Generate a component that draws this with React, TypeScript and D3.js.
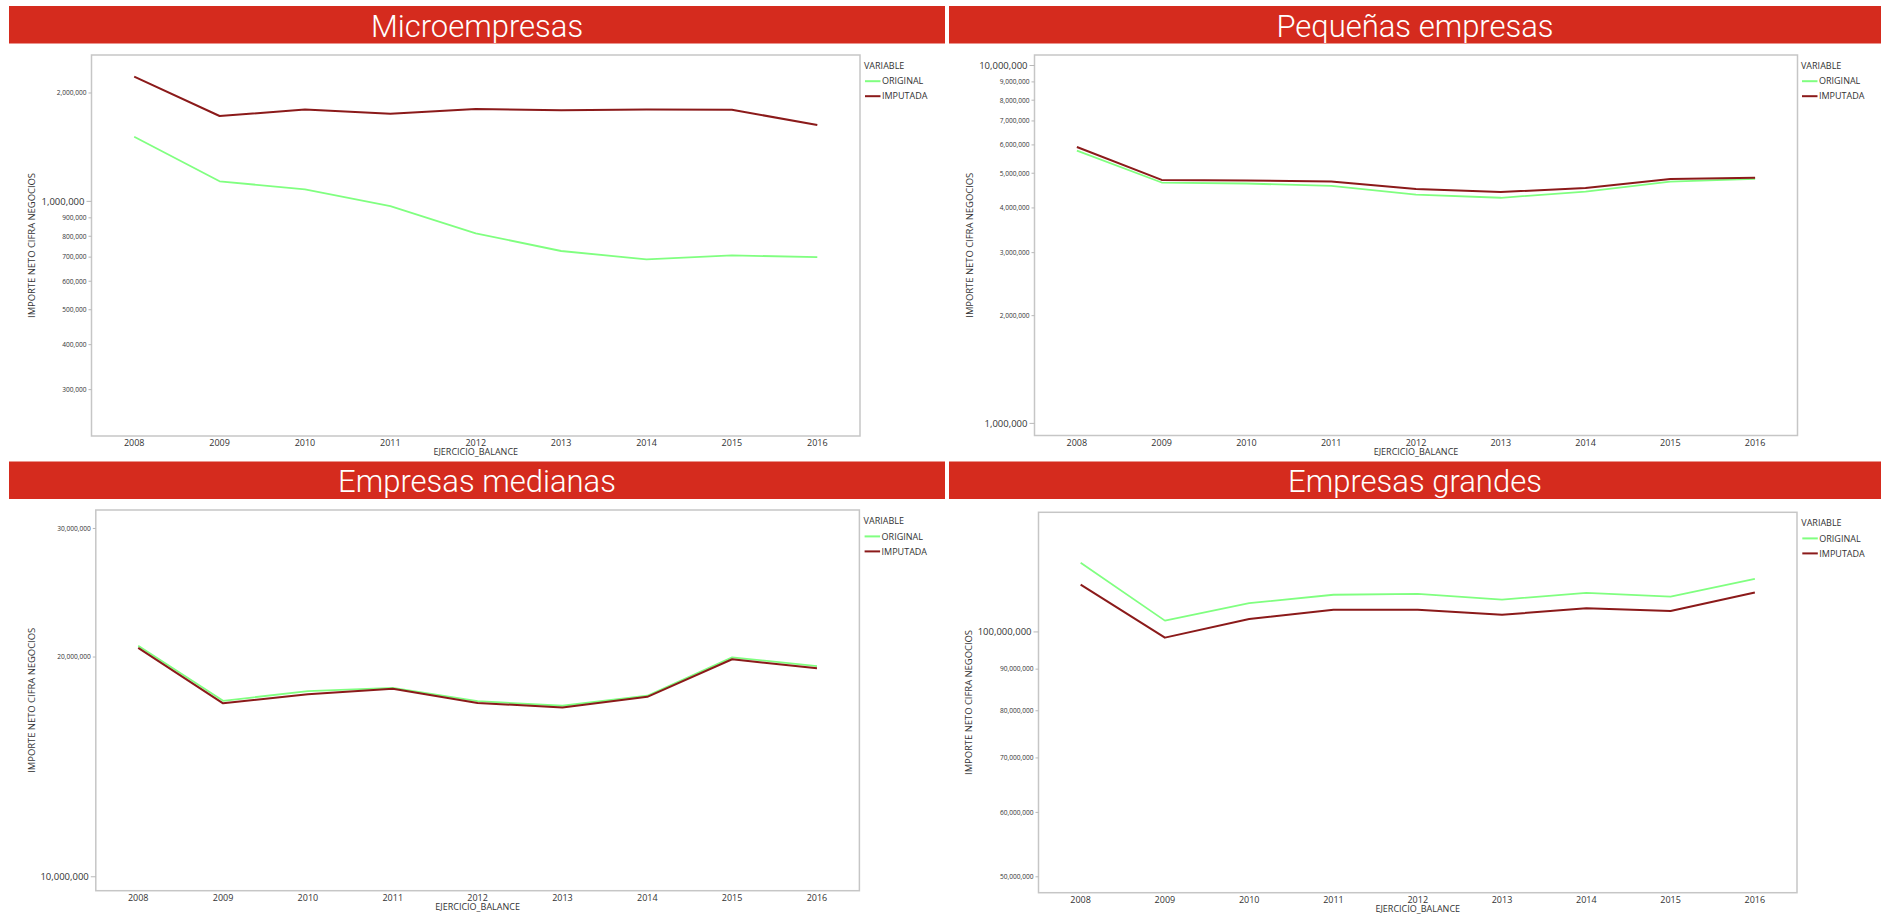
import React from "react";
import * as d3 from "d3";

const YEARS = [2008, 2009, 2010, 2011, 2012, 2013, 2014, 2015, 2016];
const SERIES_NAMES = ["ORIGINAL", "IMPUTADA"];
const LEGEND_TITLE = "VARIABLE";
const X_TITLE = "EJERCICIO_BALANCE";
const Y_TITLE = "IMPORTE NETO CIFRA NEGOCIOS";

const MICRO_TITLE = "Microempresas";
const MICRO_ORIGINAL = [1512000, 1137000, 1080000, 970000, 815000, 728000, 690000, 708000, 700000];
const MICRO_IMPUTADA = [2220000, 1726000, 1800000, 1751000, 1805000, 1790000, 1800000, 1797000, 1629000];
const MICRO_DOMAIN = [223000, 2550000];
const MICRO_TICKS = [300000, 400000, 500000, 600000, 700000, 800000, 900000, 1000000, 2000000];
const MICRO_MAJOR = [1000000];

const PEQ_TITLE = "Pequeñas empresas";
const PEQ_ORIGINAL = [5780000, 4710000, 4680000, 4610000, 4360000, 4270000, 4440000, 4740000, 4820000];
const PEQ_IMPUTADA = [5920000, 4790000, 4770000, 4740000, 4520000, 4430000, 4550000, 4820000, 4860000];
const PEQ_DOMAIN = [925000, 10700000];
const PEQ_TICKS = [1000000, 2000000, 3000000, 4000000, 5000000, 6000000, 7000000, 8000000, 9000000, 10000000];
const PEQ_MAJOR = [1000000, 10000000];

const MED_TITLE = "Empresas medianas";
const MED_ORIGINAL = [20720000, 17420000, 17960000, 18150000, 17400000, 17150000, 17700000, 19980000, 19440000];
const MED_IMPUTADA = [20590000, 17280000, 17790000, 18090000, 17300000, 17060000, 17640000, 19860000, 19300000];
const MED_DOMAIN = [9570000, 31800000];
const MED_TICKS = [10000000, 20000000, 30000000];
const MED_MAJOR = [10000000];

const GRA_TITLE = "Empresas grandes";
const GRA_ORIGINAL = [121600000, 103250000, 108500000, 111100000, 111400000, 109600000, 111700000, 110500000, 116200000];
const GRA_IMPUTADA = [114300000, 98400000, 103700000, 106500000, 106500000, 105000000, 106900000, 106100000, 111800000];
const GRA_DOMAIN = [47800000, 140300000];
const GRA_TICKS = [50000000, 60000000, 70000000, 80000000, 90000000, 100000000];
const GRA_MAJOR = [100000000];

const COLORS = ["#80ff80", "#8b1a1a"];
const BANNER = "#d52b1e";
const FONT = "'Open Sans', 'Noto Sans', sans-serif";
const TEXT = "#333333";
const fmt = d3.format(",");

type Layout = {
  banner: { x: number; y: number; w: number; h: number };
  frame: { l: number; t: number; r: number; b: number };
  legend: { x: number; y: number };
  yTitleX: number;
};

const LAYOUTS: Layout[] = [
  { banner: { x: 9, y: 6, w: 936, h: 37.5 }, frame: { l: 91.5, t: 55, r: 860, b: 436 }, legend: { x: 864, y: 65.5 }, yTitleX: 31.5 },
  { banner: { x: 949, y: 6, w: 932, h: 37.5 }, frame: { l: 1034.5, t: 55, r: 1797.5, b: 435.5 }, legend: { x: 1801, y: 65.5 }, yTitleX: 969.5 },
  { banner: { x: 9, y: 461.5, w: 936, h: 37.5 }, frame: { l: 95.8, t: 510, r: 859.4, b: 890.7 }, legend: { x: 863.6, y: 520.7 }, yTitleX: 31.8 },
  { banner: { x: 949, y: 461.5, w: 932, h: 37.5 }, frame: { l: 1038.5, t: 512.3, r: 1797, b: 892.7 }, legend: { x: 1801.3, y: 522.7 }, yTitleX: 968.5 },
];

type PanelProps = {
  title: string;
  layout: Layout;
  series: number[][];
  domain: number[];
  ticks: number[];
  major: number[];
};

function Panel({ title, layout, series, domain, ticks, major }: PanelProps) {
  const { banner, frame, legend, yTitleX } = layout;
  const x = d3.scalePoint<number>().domain(YEARS).range([frame.l, frame.r]).padding(0.5);
  const y = d3.scaleLog().domain(domain).range([frame.b, frame.t]);
  const line = d3
    .line<number>()
    .x((_, i) => x(YEARS[i]) as number)
    .y((d) => y(d));
  const cy = (frame.t + frame.b) / 2;
  const cx = (frame.l + frame.r) / 2;
  return (
    <g>
      <rect x={banner.x} y={banner.y} width={banner.w} height={banner.h} fill={BANNER} />
      <text
        x={banner.x + banner.w / 2}
        y={banner.y + 30.5}
        textAnchor="middle"
        fill="#ffffff"
        fontFamily="Roboto, 'Liberation Sans', sans-serif"
        fontWeight={300}
        fontSize={31}
      >
        {title}
      </text>
      <rect
        x={frame.l}
        y={frame.t}
        width={frame.r - frame.l}
        height={frame.b - frame.t}
        fill="#ffffff"
        stroke="#c6c6c6"
        strokeWidth={1.5}
      />
      {ticks.map((t) => {
        const isMajor = major.includes(t);
        const ty = y(t);
        return (
          <g key={t}>
            <line x1={frame.l - (isMajor ? 5 : 3)} x2={frame.l} y1={ty} y2={ty} stroke="#b8b8b8" strokeWidth={1} />
            <text
              x={frame.l - (isMajor ? 7 : 5)}
              y={ty}
              dy="0.35em"
              textAnchor="end"
              fill={TEXT}
              fontFamily={FONT}
              fontSize={isMajor ? 9.5 : 6.6}
            >
              {fmt(t)}
            </text>
          </g>
        );
      })}
      {YEARS.map((yr) => (
        <text
          key={yr}
          x={x(yr) as number}
          y={frame.b + 10}
          textAnchor="middle"
          fill={TEXT}
          fontFamily={FONT}
          fontSize={9}
        >
          {yr}
        </text>
      ))}
      <text x={cx} y={frame.b + 19} textAnchor="middle" fill={TEXT} fontFamily={FONT} fontSize={9}>
        {X_TITLE}
      </text>
      <text
        transform={`translate(${yTitleX},${cy}) rotate(-90)`}
        textAnchor="middle"
        dy="0.35em"
        fill={TEXT}
        fontFamily={FONT}
        fontSize={9}
        textLength={145}
        lengthAdjust="spacingAndGlyphs"
      >
        {Y_TITLE}
      </text>
      {series.map((s, i) => (
        <path key={i} d={line(s) ?? ""} fill="none" stroke={COLORS[i]} strokeWidth={i === 0 ? 1.8 : 2} strokeLinejoin="round" />
      ))}
      <text x={legend.x} y={legend.y} dy="0.35em" fill={TEXT} fontFamily={FONT} fontSize={9}>
        {LEGEND_TITLE}
      </text>
      {SERIES_NAMES.map((name, i) => (
        <g key={name} transform={`translate(${legend.x + 1},${legend.y + 15.7 + i * 15})`}>
          <line x1={0} x2={15.5} y1={0} y2={0} stroke={COLORS[i]} strokeWidth={2} />
          <text x={17} y={0} dy="0.35em" fill={TEXT} fontFamily={FONT} fontSize={9}>
            {name}
          </text>
        </g>
      ))}
    </g>
  );
}

export default function App() {
  return (
    <svg
      width={1881}
      height={914}
      style={{ position: "absolute", left: 0, top: 0, background: "#ffffff" }}
    >
      <rect x={0} y={0} width={1881} height={914} fill="#ffffff" />
      <Panel title={MICRO_TITLE} layout={LAYOUTS[0]} series={[MICRO_ORIGINAL, MICRO_IMPUTADA]} domain={MICRO_DOMAIN} ticks={MICRO_TICKS} major={MICRO_MAJOR} />
      <Panel title={PEQ_TITLE} layout={LAYOUTS[1]} series={[PEQ_ORIGINAL, PEQ_IMPUTADA]} domain={PEQ_DOMAIN} ticks={PEQ_TICKS} major={PEQ_MAJOR} />
      <Panel title={MED_TITLE} layout={LAYOUTS[2]} series={[MED_ORIGINAL, MED_IMPUTADA]} domain={MED_DOMAIN} ticks={MED_TICKS} major={MED_MAJOR} />
      <Panel title={GRA_TITLE} layout={LAYOUTS[3]} series={[GRA_ORIGINAL, GRA_IMPUTADA]} domain={GRA_DOMAIN} ticks={GRA_TICKS} major={GRA_MAJOR} />
    </svg>
  );
}
